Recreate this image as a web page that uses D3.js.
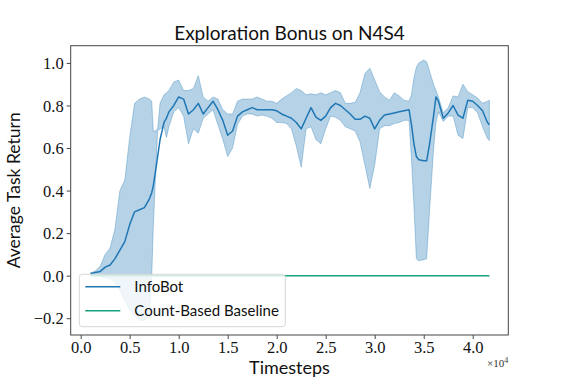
<!DOCTYPE html>
<html>
<head>
<meta charset="utf-8">
<script src="https://cdn.jsdelivr.net/npm/d3@7"></script>
<style>
  body { margin: 0; background: #fff; }
  svg { display: block; }
</style>
</head>
<body>
<div id="chart"></div>
<script>
// timesteps of the InfoBot run
const steps = [1000,1500,2000,2500,3000,3500,4000,4500,5000,5500,6000,6500,7000,7250,7400,7600,7850,8100,8500,8750,
  9000,9500,10000,10500,11000,11500,12000,12500,13000,13500,14000,14500,15000,15500,16000,16500,17000,17500,18000,18500,
  19000,19500,20000,20500,21000,21500,22000,22500,23000,23500,24000,24500,25000,25500,26000,26500,27000,27500,28000,28500,
  29000,29500,30000,30500,31000,31500,32000,32500,33000,33500,33750,34000,34250,34500,35000,35300,35600,36000,36250,36500,
  37000,37500,38000,38500,39000,39500,40000,40500,41000,41500,41700];

// mean return
const meanReturn = [0.01,0.015,0.02,0.04,0.05,0.08,0.12,0.16,0.24,0.30,0.31,0.32,0.36,0.39,0.42,0.48,0.56,0.64,0.72,0.74,
  0.77,0.80,0.84,0.83,0.76,0.78,0.81,0.76,0.79,0.82,0.78,0.73,0.66,0.68,0.75,0.77,0.78,0.79,0.78,0.78,
  0.78,0.78,0.775,0.76,0.75,0.74,0.72,0.69,0.74,0.79,0.745,0.73,0.75,0.79,0.81,0.80,0.78,0.76,0.735,0.735,
  0.75,0.74,0.69,0.73,0.755,0.76,0.765,0.77,0.775,0.78,0.71,0.62,0.56,0.545,0.54,0.54,0.62,0.75,0.84,0.82,
  0.74,0.765,0.80,0.755,0.74,0.825,0.82,0.80,0.775,0.72,0.71];

// upper edge of the shaded band
const upperReturn = [0.012,0.022,0.045,0.10,0.13,0.22,0.40,0.45,0.65,0.81,0.83,0.84,0.83,0.82,0.68,0.68,0.69,0.81,0.85,0.86,
  0.87,0.91,0.92,0.87,0.87,0.88,0.94,0.84,0.82,0.84,0.83,0.78,0.76,0.76,0.82,0.83,0.83,0.83,0.84,0.83,
  0.82,0.82,0.81,0.83,0.845,0.86,0.88,0.87,0.85,0.855,0.85,0.86,0.85,0.86,0.87,0.86,0.81,0.81,0.815,0.86,
  0.95,0.975,0.92,0.865,0.84,0.825,0.86,0.845,0.825,0.82,0.85,0.93,0.98,1.0,1.014,1.005,0.96,0.90,0.87,0.84,
  0.765,0.79,0.845,0.84,0.90,0.865,0.85,0.835,0.81,0.82,0.825];

// lower edge of the shaded band
const lowerReturn = [0.008,0.004,-0.005,-0.01,-0.015,-0.03,-0.07,-0.12,-0.16,-0.19,-0.21,-0.21,-0.19,0.0,0.22,0.43,0.68,0.69,0.70,0.65,
  0.70,0.77,0.79,0.75,0.62,0.69,0.67,0.74,0.76,0.78,0.71,0.64,0.56,0.60,0.71,0.75,0.76,0.76,0.75,0.755,
  0.75,0.74,0.72,0.72,0.715,0.69,0.61,0.51,0.69,0.70,0.64,0.62,0.69,0.75,0.745,0.73,0.70,0.69,0.68,0.63,
  0.52,0.41,0.52,0.69,0.705,0.705,0.715,0.72,0.73,0.73,0.55,0.33,0.08,0.07,0.075,0.08,0.31,0.59,0.72,0.77,
  0.725,0.75,0.75,0.66,0.645,0.79,0.79,0.765,0.70,0.645,0.635];

// count-based baseline stays flat at zero
const baselineSteps = [1000, 41700];
const baselineReturn = [0, 0];

const xTicks = [0, 5000, 10000, 15000, 20000, 25000, 30000, 35000, 40000];
const yTicks = [-0.2, 0, 0.2, 0.4, 0.6, 0.8, 1.0];
const legendLabels = ["InfoBot", "Count-Based Baseline"];

class BandChart {

  constructor(_config) {
    this.config = {
      parentElement: _config.parentElement,
      containerWidth: _config.containerWidth || 565,
      containerHeight: _config.containerHeight || 377,
      margin: _config.margin || { top: 45.7, right: 56.7, bottom: 42, left: 70.7 }
    }
    this.initVis();
  }

  initVis() {
    let vis = this;
    const m = vis.config.margin;
    vis.width = vis.config.containerWidth - m.left - m.right;
    vis.height = vis.config.containerHeight - m.top - m.bottom;

    vis.svg = d3.select(vis.config.parentElement)
      .append("svg")
        .attr("width", vis.config.containerWidth)
        .attr("height", vis.config.containerHeight);

    vis.chart = vis.svg.append("g")
      .attr("transform", `translate(${m.left},${m.top})`);

    vis.x = d3.scaleLinear().domain([-1020, 43630]).range([0, vis.width]);
    vis.y = d3.scaleLinear().domain([-0.279, 1.081]).range([vis.height, 0]);

    vis.blue = "#1f77b4";
    vis.green = "#15a37f";
  }

  renderVis() {
    let vis = this;
    const rows = steps.map((s, i) => ({ t: s, m: meanReturn[i], u: upperReturn[i], l: lowerReturn[i] }));

    // shaded band, edge drawn in the same translucent colour like matplotlib
    vis.chart.append("path")
      .datum(rows)
      .attr("d", d3.area().x(d => vis.x(d.t)).y0(d => vis.y(d.l)).y1(d => vis.y(d.u)))
      .attr("fill", vis.blue)
      .attr("fill-opacity", 0.33)
      .attr("stroke", vis.blue)
      .attr("stroke-opacity", 0.33)
      .attr("stroke-width", 1);

    const line = d3.line().x(d => vis.x(d.t)).y(d => vis.y(d.v));

    vis.chart.append("path")
      .datum(baselineSteps.map((s, i) => ({ t: s, v: baselineReturn[i] })))
      .attr("d", line)
      .attr("fill", "none")
      .attr("stroke", vis.green)
      .attr("stroke-width", 1.5);

    vis.chart.append("path")
      .datum(rows.map(d => ({ t: d.t, v: d.m })))
      .attr("d", line)
      .attr("fill", "none")
      .attr("stroke", vis.blue)
      .attr("stroke-width", 1.5)
      .attr("stroke-linejoin", "round");

    // axes
    const xAxis = d3.axisBottom(vis.x).tickValues(xTicks).tickSize(4).tickSizeOuter(0)
      .tickFormat(d => (d / 10000).toFixed(1));
    const yAxis = d3.axisLeft(vis.y).tickValues(yTicks).tickSize(4).tickSizeOuter(0)
      .tickFormat(d => d3.format(".1f")(d).replace("-", "\u2212"));

    const gx = vis.chart.append("g").attr("transform", `translate(0,${vis.height})`).call(xAxis);
    const gy = vis.chart.append("g").call(yAxis);
    [gx, gy].forEach(g => {
      g.select(".domain").remove();
      g.selectAll(".tick line").attr("stroke", "#333").attr("stroke-width", 0.9);
      g.selectAll(".tick text")
        .attr("fill", "#111")
        .style("font-family", "'Liberation Serif', 'DejaVu Serif', serif")
        .style("font-size", "16.5px");
    });
    gx.selectAll(".tick text").attr("dy", "0.8em").attr("y", 5);
    gy.selectAll(".tick text").attr("x", -7).attr("dy", "0.35em");

    // frame
    vis.chart.append("rect")
      .attr("width", vis.width)
      .attr("height", vis.height)
      .attr("fill", "none")
      .attr("stroke", "#444")
      .attr("stroke-width", 1);

    // legend
    const leg = vis.chart.append("g").attr("transform", `translate(${79.3 - 70.7},${274.3 - 45.7})`);
    leg.append("rect")
      .attr("width", 206)
      .attr("height", 52.4)
      .attr("rx", 3)
      .attr("fill", "#fff")
      .attr("fill-opacity", 0.8)
      .attr("stroke", "#d6d6d6");
    const legColors = [vis.blue, vis.green];
    legendLabels.forEach((lab, i) => {
      const yy = 12.4 + i * 24;
      leg.append("line")
        .attr("x1", 6).attr("x2", 41).attr("y1", yy).attr("y2", yy)
        .attr("stroke", legColors[i]).attr("stroke-width", 1.5);
      leg.append("text")
        .attr("x", 55).attr("y", yy + 5.5)
        .style("font-family", "Lato, 'Open Sans', sans-serif")
        .style("font-size", "15px")
        .attr("fill", "#111")
        .text(lab);
    });

    // titles
    vis.svg.append("text")
      .attr("x", 70.7 + vis.width / 2).attr("y", 39.5)
      .attr("text-anchor", "middle")
      .style("font-family", "Lato, 'Open Sans', sans-serif")
      .style("font-size", "19px")
      .attr("fill", "#111")
      .text("Exploration Bonus on N4S4");

    vis.svg.append("text")
      .attr("x", 70.7 + vis.width / 2).attr("y", 374)
      .attr("text-anchor", "middle")
      .style("font-family", "Lato, 'Open Sans', sans-serif")
      .style("font-size", "18px")
      .attr("fill", "#111")
      .text("Timesteps");

    vis.svg.append("text")
      .attr("transform", `translate(20,${45.7 + vis.height / 2}) rotate(-90)`)
      .attr("text-anchor", "middle")
      .style("font-family", "Lato, 'Open Sans', sans-serif")
      .style("font-size", "17.5px")
      .attr("fill", "#111")
      .text("Average Task Return");

    // offset text for the x axis
    const off = vis.svg.append("text")
      .attr("x", 508.3).attr("y", 367)
      .attr("text-anchor", "end")
      .style("font-family", "'Liberation Serif', 'DejaVu Serif', serif")
      .style("font-size", "11px")
      .attr("fill", "#333");
    off.append("tspan").text("\u00d710");
    off.append("tspan").attr("dy", -4).style("font-size", "8px").text("4");
  }
}

const chart = new BandChart({ parentElement: "#chart" });
chart.renderVis();
</script>
</body>
</html>
